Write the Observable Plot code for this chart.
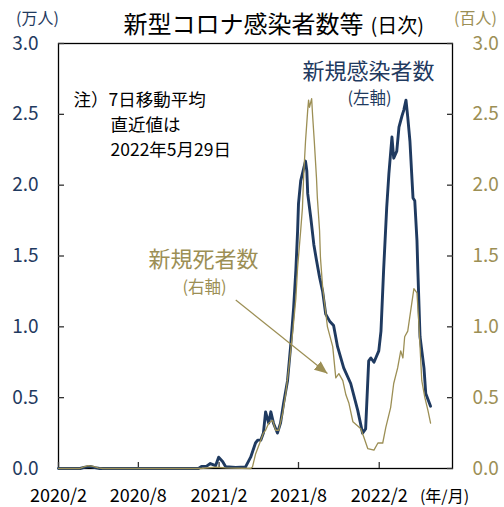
<!DOCTYPE html>
<html>
<head>
<meta charset="utf-8">
<script src="https://cdn.jsdelivr.net/npm/d3@7"></script>
<script src="https://cdn.jsdelivr.net/npm/@observablehq/plot@0.6"></script>
<style>
  html, body { margin: 0; padding: 0; background: #fff; }
  #chart svg { display: block; }
</style>
</head>
<body>
<div id="chart"></div>
<script>
// 新規感染者数 (万人, 左軸) — 7日移動平均
const casesDates = ["2020-02-01","2020-03-21","2020-04-02","2020-04-13","2020-04-24","2020-05-05","2020-12-16","2020-12-23","2021-01-03","2021-01-12","2021-01-24","2021-01-31","2021-02-09","2021-02-16","2021-03-11","2021-03-22","2021-04-02","2021-04-14","2021-04-25","2021-04-30","2021-05-07","2021-05-13","2021-05-18","2021-05-25","2021-05-30","2021-06-05","2021-06-14","2021-06-21","2021-06-28","2021-07-07","2021-07-14","2021-07-21","2021-07-26","2021-07-30","2021-08-01","2021-08-06","2021-08-13","2021-08-17","2021-08-20","2021-08-22","2021-08-29","2021-09-05","2021-09-11","2021-09-18","2021-09-25","2021-10-02","2021-10-11","2021-10-20","2021-10-29","2021-11-12","2021-11-28","2021-12-14","2021-12-25","2022-01-01","2022-01-08","2022-01-13","2022-01-20","2022-01-31","2022-02-05","2022-02-11","2022-02-18","2022-02-23","2022-03-02","2022-03-06","2022-03-13","2022-03-18","2022-03-25","2022-03-29","2022-04-03","2022-04-07","2022-04-12","2022-04-16","2022-04-19","2022-04-23","2022-04-28","2022-04-30","2022-05-05","2022-05-14","2022-05-18","2022-05-29"];
const casesValues = [0,0,0.01,0.015,0.006,0,0,0.015,0.015,0.035,0.02,0.08,0.05,0.012,0.008,0.01,0.01,0.08,0.18,0.2,0.2,0.25,0.4,0.32,0.4,0.32,0.25,0.32,0.46,0.62,0.86,1.14,1.4,1.68,1.87,2.03,2.12,2.17,2.1,1.94,1.77,1.58,1.47,1.35,1.25,1.09,1.04,1.01,0.86,0.71,0.6,0.41,0.25,0.28,0.76,0.78,0.75,0.83,0.97,1.4,1.84,2.08,2.34,2.19,2.24,2.41,2.49,2.53,2.6,2.48,2.31,2.08,1.91,1.89,1.61,1.4,0.93,0.71,0.53,0.44];

// 新規死者数 (百人, 右軸) — 7日移動平均
const deathsDates = ["2020-02-01","2020-03-21","2020-03-28","2020-04-09","2020-04-20","2020-05-01","2020-05-12","2020-12-21","2021-01-24","2021-02-16","2021-04-14","2021-04-18","2021-04-25","2021-05-07","2021-05-13","2021-05-18","2021-05-25","2021-06-03","2021-06-10","2021-06-17","2021-06-26","2021-07-03","2021-07-10","2021-07-19","2021-07-26","2021-07-30","2021-08-06","2021-08-10","2021-08-13","2021-08-17","2021-08-22","2021-08-24","2021-08-26","2021-08-31","2021-09-02","2021-09-06","2021-09-11","2021-09-13","2021-09-18","2021-09-20","2021-09-25","2021-09-27","2021-10-06","2021-10-18","2021-10-25","2021-11-01","2021-11-10","2021-11-17","2021-11-24","2021-12-03","2021-12-14","2021-12-21","2021-12-28","2022-01-06","2022-01-20","2022-01-29","2022-02-09","2022-02-16","2022-02-27","2022-03-06","2022-03-15","2022-03-22","2022-03-27","2022-03-31","2022-04-07","2022-04-14","2022-04-21","2022-04-28","2022-05-02","2022-05-09","2022-05-16","2022-05-23","2022-05-29"];
const deathsValues = [0,0,0.01,0.02,0.015,0.005,0,0,0.01,0.005,0,0.01,0.1,0.2,0.25,0.27,0.32,0.34,0.27,0.27,0.39,0.53,0.71,0.97,1.2,1.42,1.68,1.84,2.08,2.31,2.53,2.6,2.55,2.61,2.5,2.31,2.05,1.91,1.68,1.49,1.28,1.23,1.0,0.86,0.64,0.67,0.62,0.52,0.46,0.33,0.3,0.28,0.22,0.14,0.13,0.18,0.18,0.29,0.43,0.6,0.71,0.83,0.78,0.93,0.97,1.12,1.27,1.24,1.04,0.62,0.5,0.41,0.32];

// tick labels
const yTicks = [0, 0.5, 1.0, 1.5, 2.0, 2.5, 3.0];
const xTickDates = ["2020-02-01","2020-08-01","2021-02-01","2021-08-01","2022-02-01"];
const xTickLabels = ["2020/2","2020/8","2021/2","2021/8","2022/2"];

const blue = "#1f3a60";
const gold = "#9c8f55";
const font = "'Noto Sans CJK JP', 'Noto Sans', sans-serif";

const cases = casesDates.map((d, i) => ({date: new Date(d), value: casesValues[i]}));
const deaths = deathsDates.map((d, i) => ({date: new Date(d), value: deathsValues[i]}));
const xTicks = xTickDates.map(d => new Date(d));
const xLabel = new Map(xTicks.map((d, i) => [+d, xTickLabels[i]]));

const plot = Plot.plot({
  width: 504,
  height: 507,
  marginLeft: 58,
  marginRight: 52,
  marginTop: 43,
  marginBottom: 39,
  style: {fontFamily: font, background: "#fff", overflow: "visible"},
  x: {type: "utc", domain: [new Date("2020-02-01"), new Date("2022-07-18")]},
  y: {domain: [0, 3]},
  marks: [
    Plot.frame({stroke: "#000", strokeWidth: 1.3}),
    // inward ticks
    Plot.axisY({anchor: "left", ticks: yTicks, tickSize: -6, tickFormat: () => "", label: null, stroke: "#333", strokeWidth: 1.3}),
    Plot.axisY({anchor: "right", ticks: yTicks, tickSize: -6, tickFormat: () => "", label: null, stroke: "#333", strokeWidth: 1.3}),
    Plot.axisX({anchor: "bottom", ticks: xTicks, tickSize: -6, tickFormat: () => "", label: null, stroke: "#333", strokeWidth: 1.3}),
    // labels
    Plot.axisY({anchor: "left", ticks: yTicks, tickSize: 0, tickPadding: 20, tickFormat: d3.format(".1f"), label: null, fill: blue, fontSize: 19}),
    Plot.axisY({anchor: "right", ticks: yTicks, tickSize: 0, tickPadding: 20, tickFormat: d3.format(".1f"), label: null, fill: gold, fontSize: 19}),
    Plot.axisX({anchor: "bottom", ticks: xTicks, tickSize: 0, tickPadding: 21, tickFormat: d => xLabel.get(+d), label: null, fill: "#000", fontSize: 18}),
    // series
    Plot.lineY(cases, {x: "date", y: "value", stroke: blue, strokeWidth: 2.9, strokeLinejoin: "round"}),
    Plot.lineY(deaths, {x: "date", y: "value", stroke: gold, strokeWidth: 1.3, strokeLinejoin: "round"}),
    // arrow pointing to deaths series
    Plot.link([{x1: new Date("2021-03-11"), y1: 1.19, x2: new Date("2021-10-06"), y2: 0.67}], {x1: "x1", y1: "y1", x2: "x2", y2: "y2", stroke: gold, strokeWidth: 1.2, markerEnd: "arrow"}),
    // texts
    Plot.text(["新型コロナ感染者数等"], {frameAnchor: "top-left", dx: 65, dy: -18, textAnchor: "start", lineAnchor: "middle", fontSize: 24, fill: "#000"}),
    Plot.text(["(日次)"], {frameAnchor: "top-left", dx: 312, dy: -17, textAnchor: "start", lineAnchor: "middle", fontSize: 20, fill: "#000"}),
    Plot.text(["(万人)"], {frameAnchor: "top-left", dx: -21, dy: -25, textAnchor: "middle", lineAnchor: "middle", fontSize: 16, fill: blue}),
    Plot.text(["(百人)"], {frameAnchor: "top-right", dx: 23, dy: -25, textAnchor: "middle", lineAnchor: "middle", fontSize: 16, fill: gold}),
    Plot.text(["注）7日移動平均"], {frameAnchor: "top-left", dx: 15, dy: 57, textAnchor: "start", lineAnchor: "middle", fontSize: 17.5, fill: "#000"}),
    Plot.text(["直近値は"], {frameAnchor: "top-left", dx: 52, dy: 82, textAnchor: "start", lineAnchor: "middle", fontSize: 17.5, fill: "#000"}),
    Plot.text(["2022年5月29日"], {frameAnchor: "top-left", dx: 52, dy: 107, textAnchor: "start", lineAnchor: "middle", fontSize: 17.5, fill: "#000"}),
    Plot.text(["新規感染者数"], {frameAnchor: "top-left", dx: 310, dy: 28, textAnchor: "middle", lineAnchor: "middle", fontSize: 22, fill: blue}),
    Plot.text(["(左軸)"], {frameAnchor: "top-left", dx: 311, dy: 55, textAnchor: "middle", lineAnchor: "middle", fontSize: 16.5, fill: blue}),
    Plot.text(["新規死者数"], {frameAnchor: "top-left", dx: 145, dy: 216, textAnchor: "middle", lineAnchor: "middle", fontSize: 22, fill: gold}),
    Plot.text(["(右軸)"], {frameAnchor: "top-left", dx: 146, dy: 244, textAnchor: "middle", lineAnchor: "middle", fontSize: 16.5, fill: gold}),
    Plot.text(["(年/月)"], {frameAnchor: "bottom-right", dx: -8, dy: 28, textAnchor: "middle", lineAnchor: "middle", fontSize: 16, fill: "#000"})
  ]
});

// turn Plot's open arrow marker into a filled triangular head
const svg = d3.select(plot);
svg.selectAll("marker")
  .attr("viewBox", "-10 -5 10 10")
  .attr("markerUnits", "userSpaceOnUse")
  .attr("markerWidth", 13)
  .attr("markerHeight", 13)
  .attr("fill", gold)
  .attr("stroke", "none")
  .selectAll("path")
  .attr("d", "M-10,-4.2L0,0L-10,4.2Z")
  .attr("fill", gold)
  .attr("stroke", "none");

document.getElementById("chart").appendChild(plot);
</script>
</body>
</html>
